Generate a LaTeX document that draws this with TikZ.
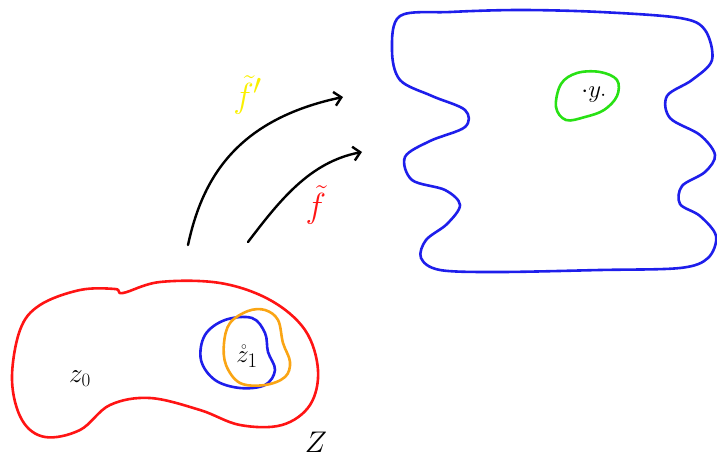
\documentclass[tikz,border=0pt]{standalone}
\usepackage{graphicx}
\usetikzlibrary{arrows.meta}
\definecolor{cred}{RGB}{255,20,20}
\definecolor{cblue}{RGB}{30,30,235}
\definecolor{corange}{RGB}{250,165,20}
\definecolor{cgreen}{RGB}{40,225,20}
\definecolor{cyellow}{RGB}{250,240,0}
\tikzset{
  blob/.style={line width=2.6pt, line join=round},
  conn/.style={line width=2.4pt, line cap=round, -{Straight Barb[length=7pt,width=14pt,line width=2.4pt]}},
  lbl/.style={inner sep=0pt, font=\Huge}
}
\begin{document}
\begin{tikzpicture}[x=1pt,y=-1pt]
\useasboundingbox (0,0) rectangle (717,457);
% red region Z
\draw[blob, cred] plot[smooth cycle, tension=0.6] coordinates {
 (40,305) (80,290) (115,289) (123,293) (160,282) (220,283) (270,300) (305,330)
 (318,370) (310,405) (282,425) (240,425) (200,410) (150,398) (110,405) (80,430)
 (45,437) (22,420) (12,380) (20,330)};
% small blue and orange regions
\draw[blob, cblue] plot[smooth cycle, tension=0.6] coordinates {
 (205,335) (225,320) (252,318) (265,333) (268,352) (275,370) (265,385) (240,388) (215,380) (201,360)};
\draw[blob, corange] plot[smooth cycle, tension=0.6] coordinates {
 (230,323) (248,311) (265,310) (278,320) (283,343) (290,362) (285,377) (265,385) (240,383) (226,365) (224,343)};
% big blue region
\draw[blob, cblue] plot[smooth cycle, tension=0.55] coordinates {
 (400,16) (450,12) (520,10) (600,12) (680,18) (705,30) (712,60) (692,80) (667,96)
 (670,118) (700,135) (715,155) (705,172) (682,186) (680,204) (700,216) (716,236)
 (708,258) (680,268) (600,270) (500,272) (440,270) (421,258) (426,240) (447,224)
 (460,205) (445,190) (412,180) (405,157) (430,141) (465,127) (465,110) (432,96)
 (400,80) (392,50)};
% green region
\draw[blob, cgreen] plot[smooth cycle, tension=0.6] coordinates {
 (561,84) (577,73) (600,72) (617,80) (617,96) (604,110) (585,117) (566,120) (556,107)};
% texts
\node[lbl] (z0) at (80,379) {\scalebox{1.1}{$z_{\scriptscriptstyle 0}$}};
\node[lbl] (z1) at (247,356) {\scalebox{1}{$\mathring{z}_{1}$}};
\node[lbl] (Z) at (316,442) {\scalebox{1.2}{$Z$}};
\node[lbl] (y1) at (594,94) {\scalebox{1}{$\cdot y_{\cdot}$}};
\node[lbl, text=cyellow] (fp) at (248,95) {\scalebox{1.4}{$\tilde{f}'$}};
\node[lbl, text=cred] (f) at (316,205) {\scalebox{1.4}{$\tilde{f}$}};
% arrows
\coordinate (a1s) at (188,245);
\coordinate (a1e) at (343,97);
\coordinate (a2s) at (248,242);
\coordinate (a2e) at (362,152);
\draw[conn] (a1s) .. controls (202,180) and (235,120) .. (a1e);
\draw[conn] (a2s) .. controls (280,200) and (310,162) .. (a2e);
\end{tikzpicture}
\end{document}
